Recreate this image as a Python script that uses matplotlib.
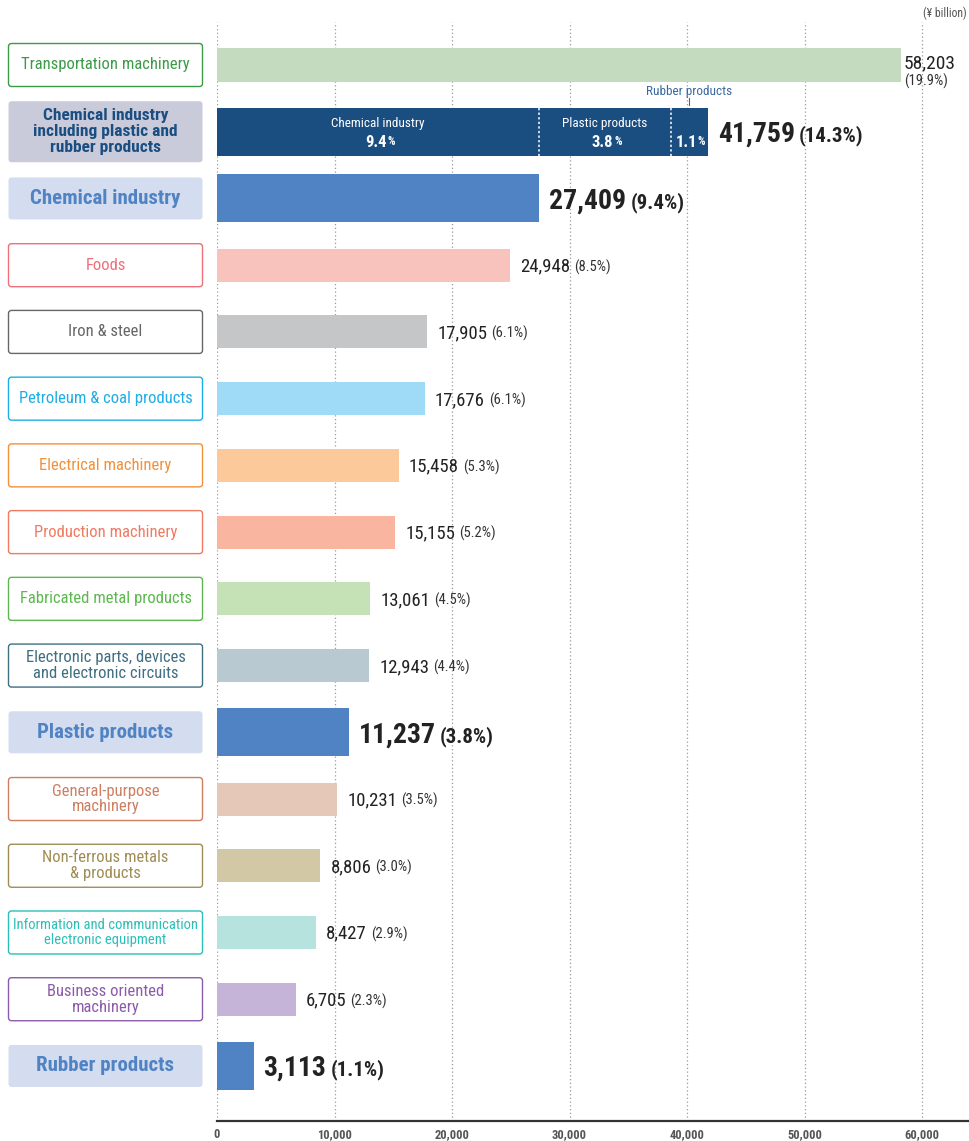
import matplotlib
matplotlib.use("Agg")
import matplotlib.pyplot as plt
from matplotlib import font_manager
from matplotlib.patches import FancyBboxPatch
from matplotlib.ticker import FuncFormatter

names = {f.name for f in font_manager.fontManager.ttflist}
FONT = next((c for c in ["Roboto Condensed", "Liberation Sans Narrow", "Archivo Narrow",
                         "PT Sans Narrow", "Fira Sans Condensed", "Barlow Semi Condensed",
                         "Roboto"] if c in names), "DejaVu Sans")
plt.rcParams['font.family'] = [FONT, 'DejaVu Sans']

# ---------------- data ----------------
categories = ["Transportation machinery",
              "Chemical industry\nincluding plastic and\nrubber products",
              "Chemical industry", "Foods", "Iron & steel", "Petroleum & coal products",
              "Electrical machinery", "Production machinery", "Fabricated metal products",
              "Electronic parts, devices\nand electronic circuits", "Plastic products",
              "General-purpose\nmachinery", "Non-ferrous metals\n& products",
              "Information and communication\nelectronic equipment",
              "Business oriented\nmachinery", "Rubber products"]
values = [58203, 41759, 27409, 24948, 17905, 17676, 15458, 15155, 13061, 12943,
          11237, 10231, 8806, 8427, 6705, 3113]
shares = ["19.9%", "14.3%", "9.4%", "8.5%", "6.1%", "6.1%", "5.3%", "5.2%", "4.5%",
          "4.4%", "3.8%", "3.5%", "3.0%", "2.9%", "2.3%", "1.1%"]
# breakdown of the combined bar
stack_names = ["Chemical industry", "Plastic products", "Rubber products"]
stack_values = [27409, 11237, 3113]
stack_shares = ["9.4", "3.8", "1.1"]
x_ticks = [0, 10000, 20000, 30000, 40000, 50000, 60000]

# styles
kind = ["n", "combo", "hl", "n", "n", "n", "n", "n", "n", "n", "hl", "n", "n", "n", "n", "hl"]
bar_colors = ["#c4dbbf", "#1b4e80", "#5083c4", "#f8c3bd", "#c5c6c8", "#9fdbf6", "#fcc99b",
              "#f9b59f", "#c4e2b6", "#b9c9d1", "#5083c4", "#e5c8b8", "#d3c8a6", "#b6e3de",
              "#c6b4d8", "#5083c4"]
text_colors = ["#3c9b48", "#1b4e80", "#5083c4", "#ef6f7b", "#666666", "#1fade6", "#f3903a",
               "#f07a62", "#5cb84e", "#3f6f80", "#5083c4", "#cd7f63", "#a08d55", "#2bbfb6",
               "#8c5bab", "#5083c4"]

W, H = 969, 1141
fig = plt.figure(figsize=(W / 100, H / 100), dpi=100)
ax_left, ax_right, ax_top, ax_bot = 217, 969, 22, 1121
ax = fig.add_axes([ax_left / W, 1 - ax_bot / H, (ax_right - ax_left) / W, (ax_bot - ax_top) / H])
px_per_row = 66.73
y0 = 65
ylim_top = -(y0 - ax_top) / px_per_row
ylim_bot = (ax_bot - y0) / px_per_row
px_per_unit = 117.5 / 10000
xmax = (ax_right - ax_left) / px_per_unit
ax.set_xlim(0, xmax)
ax.set_ylim(ylim_bot, ylim_top)

n = len(categories)
heights = [0.72 if k != "n" else 0.495 for k in kind]

for i in range(n):
    if kind[i] == "combo":
        left = 0
        for v in stack_values:
            ax.barh(i, v, left=left, height=heights[i], color=bar_colors[i], zorder=2)
            left += v
    else:
        ax.barh(i, values[i], height=heights[i], color=bar_colors[i], zorder=2)

# grid
for t in x_ticks:
    ax.axvline(t, color="#9a9a9a", lw=0.9, ls=(0, (1, 2)), zorder=1)
for s in ["left", "right", "top"]:
    ax.spines[s].set_visible(False)
ax.spines["bottom"].set_color("#333333")
ax.spines["bottom"].set_linewidth(1.6)
ax.set_yticks([])
ax.set_xticks(x_ticks)
ax.xaxis.set_major_formatter(FuncFormatter(lambda v, p: f"{int(v):,}"))
ax.tick_params(axis="x", length=0, pad=5, labelsize=9, labelcolor="#555555")
for lab in ax.get_xticklabels():
    lab.set_fontweight("bold")

fig.text(0.998, 1 - 13 / H, "(¥ billion)", ha="right", va="center", fontsize=8.5,
         color="#555555")

# dividers and in-bar labels for combined bar
ci = 1
cum = 0
bounds = []
for v in stack_values:
    bounds.append((cum, cum + v))
    cum += v
for b in [bounds[0][1], bounds[1][1]]:
    ax.plot([b, b], [ci - heights[ci] / 2, ci + heights[ci] / 2], color="white",
            lw=1.1, ls=(0, (1.5, 1.5)), zorder=3)
for j, (a, b) in enumerate(bounds):
    cx = (a + b) / 2
    if j < 2:
        ax.text(cx, ci - 0.13, stack_names[j], ha="center", va="center", color="white",
                fontsize=9.5, zorder=4)
        t = ax.text(cx - 200, ci + 0.16, stack_shares[j], ha="center", va="center",
                    color="white", fontsize=12, fontweight="bold", zorder=4)
    else:
        t = ax.text(cx - 250, ci + 0.16, stack_shares[j], ha="center", va="center",
                    color="white", fontsize=12, fontweight="bold", zorder=4)
        ax.text(cx, ci - 0.61, stack_names[j], ha="center", va="center",
                color="#3a69a0", fontsize=9.5)
        ax.plot([cx, cx], [ci - 0.51, ci - 0.40], color="#3a69a0", lw=0.8)
    ax.annotate("%", xy=(1, 0.12), xycoords=t, xytext=(0.5, 0), textcoords="offset points",
                va="bottom", ha="left", fontsize=8.5, color="white", fontweight="bold")

# value labels
for i in range(n):
    v = values[i]
    x = v + 10 / px_per_unit
    if i == 0:
        x = v + 3 / px_per_unit
        ax.text(x, i - 0.03, f"{v:,}", ha="left", va="center", fontsize=14, color="#222222")
        ax.text(x, i + 0.24, f"({shares[i]})", ha="left", va="center", fontsize=10.5,
                color="#333333")
        continue
    if kind[i] == "n":
        t = ax.text(x, i + 0.02, f"{v:,}", ha="left", va="center", fontsize=13.5,
                    color="#222222")
        ax.annotate(f"({shares[i]})", xy=(1, 0.48), xycoords=t, xytext=(3, 0),
                    textcoords="offset points", ha="left", va="center", fontsize=10.5,
                    color="#333333")
    else:
        t = ax.text(x, i + 0.04, f"{v:,}", ha="left", va="center", fontsize=20,
                    fontweight="bold", color="#222222")
        ax.annotate(f"({shares[i]})", xy=(1, 0.45), xycoords=t, xytext=(3, 0),
                    textcoords="offset points", ha="left", va="center", fontsize=15,
                    fontweight="bold", color="#222222")

# category label boxes
lax = fig.add_axes([0, 1 - ax_bot / H, ax_left / W, (ax_bot - ax_top) / H])
lax.set_xlim(0, ax_left)
lax.set_ylim(ylim_bot, ylim_top)
lax.axis("off")
aspect = 1 / px_per_row
for i in range(n):
    k = kind[i]
    if k == "n":
        hgt = 43 / px_per_row
        fc, ec, lw = "white", text_colors[i], 1.0
        fs, fw, ls = 12, "normal", 1.05
    elif k == "combo":
        hgt = 61 / px_per_row
        fc, ec, lw = "#c9cbdb", "#c9cbdb", 0
        fs, fw, ls = 12.5, "bold", 1.08
    else:
        hgt = 42 / px_per_row
        fc, ec, lw = "#d4ddf0", "#d4ddf0", 0
        fs, fw, ls = 15, "bold", 1.0
    box = FancyBboxPatch((8.5, i - hgt / 2), 194, hgt,
                         boxstyle="round,pad=0,rounding_size=3", mutation_aspect=aspect,
                         fc=fc, ec=ec, lw=lw)
    lax.add_patch(box)
    txt = lax.text(105.5, i, categories[i], ha="center", va="center", fontsize=fs,
                   fontweight=fw, color=text_colors[i], linespacing=ls)
    # shrink the text if it would overflow its box
    fig.canvas.draw() if i == 0 else None
    r = fig.canvas.get_renderer()
    wpx = txt.get_window_extent(renderer=r).width
    if wpx > 184:
        txt.set_fontsize(fs * 184 / wpx)

fig.savefig("out.png", dpi=100)
